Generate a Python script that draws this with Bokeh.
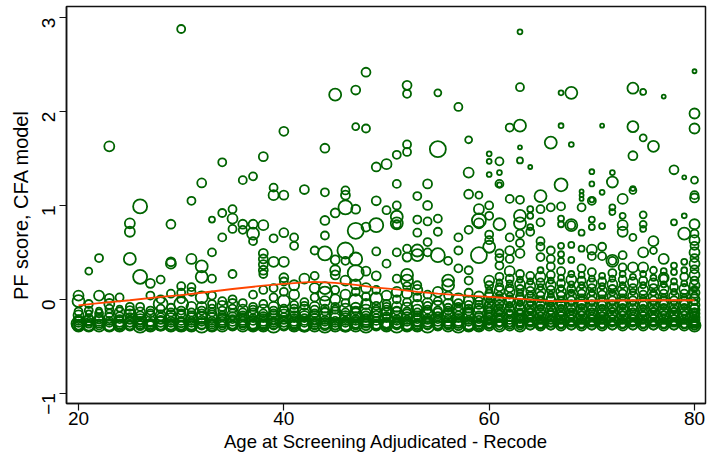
import math
from bokeh.plotting import figure
from bokeh.models import Range1d, FixedTicker
from bokeh.embed import file_html
from bokeh.resources import INLINE

# ---------------- data ----------------
# scattered observations away from the dense floor band: (age, PF score, weight)
scatter_obs = [
    (30, 2.88, 16), (23, 1.63, 25), (34, 1.46, 16), (32, 1.24, 20), (31, 1.05, 16), (26, 0.99, 49),
    (48, 2.42, 20), (45, 2.18, 36), (47, 2.23, 20), (40, 1.79, 20), (47, 1.84, 12), (48, 1.82, 16),
    (44, 1.61, 20), (38, 1.52, 20), (50, 1.44, 25), (49, 1.41, 20), (51, 1.54, 16), (36, 1.27, 16),
    (37, 1.31, 16), (39, 1.19, 16), (39, 1.11, 25), (40, 1.11, 20), (42, 1.17, 20), (44, 1.14, 16),
    (46, 1.16, 16), (46, 1.11, 20), (49, 1.05, 20), (51, 1.23, 16),
    (63, 2.85, 6), (52, 2.28, 20), (52, 2.19, 16), (55, 2.20, 12), (57, 2.05, 16), (63, 2.26, 16),
    (63, 1.85, 36), (62, 1.83, 16), (52, 1.65, 16), (52, 1.57, 16), (55, 1.60, 64), (58, 1.70, 12),
    (60, 1.55, 6), (60, 1.47, 6), (61, 1.47, 16), (60, 1.33, 6), (61, 1.35, 6), (61, 1.23, 16),
    (61, 1.22, 6), (63, 1.62, 4), (63, 1.48, 9), (64, 1.41, 4), (66, 1.67, 36), (58, 1.35, 25),
    (54, 1.23, 20), (53, 1.10, 16), (58, 1.12, 20), (59, 1.11, 12), (62, 1.07, 16), (63, 1.06, 16),
    (65, 1.10, 36),
    (80, 2.43, 4), (67, 2.20, 6), (68, 2.20, 36), (74, 2.25, 30), (75, 2.21, 9), (77, 2.16, 4),
    (80, 1.98, 25), (80, 1.82, 25), (67, 1.85, 6), (71, 1.85, 4), (74, 1.84, 30), (75, 1.72, 12),
    (76, 1.63, 30), (68, 1.65, 6), (74, 1.53, 20), (78, 1.38, 20), (79, 1.30, 4), (80, 1.27, 12),
    (67, 1.22, 42), (70, 1.36, 6), (70, 1.23, 6), (72, 1.35, 6), (72, 1.25, 30), (69, 1.15, 4),
    (69, 1.11, 4), (69, 1.07, 4), (71, 1.14, 6), (74, 1.18, 6), (74, 1.16, 12), (73, 1.07, 25),
    (70, 1.06, 6), (80, 1.11, 16), (80, 1.08, 20),
    (25, 0.81, 25), (25, 0.72, 25), (29, 0.80, 20), (33, 0.85, 9), (34, 0.92, 16), (35, 0.86, 25),
    (35, 0.75, 16), (34, 0.66, 16), (22, 0.44, 16), (21, 0.30, 12), (25, 0.43, 36), (29, 0.40, 20),
    (29, 0.38, 25), (31, 0.43, 25), (33, 0.50, 16), (32, 0.35, 36), (32, 0.24, 36), (26, 0.24, 49),
    (27, 0.17, 20), (28, 0.21, 16), (30, 0.14, 16), (31, 0.13, 16), (33, 0.22, 16), (35, 0.27, 16),
    (46, 0.98, 49), (45, 0.92, 20), (47, 0.96, 20), (50, 0.95, 16), (51, 1.00, 16), (51, 0.80, 16),
    (44, 0.84, 20), (47, 0.73, 64), (48, 0.77, 20), (49, 0.79, 49), (35, 0.96, 16), (36, 0.80, 20),
    (36, 0.74, 16), (37, 0.80, 20), (37, 0.70, 36), (37, 0.62, 16), (38, 0.79, 25), (39, 0.65, 16),
    (40, 0.71, 20), (41, 0.66, 16), (41, 0.57, 16), (44, 0.68, 16), (44, 0.49, 49), (43, 0.52, 16),
    (46, 0.52, 64), (47, 0.43, 42), (47, 0.28, 64), (46, 0.41, 16), (45, 0.42, 20), (45, 0.31, 25),
    (45, 0.26, 20), (49, 0.51, 16), (50, 0.38, 16), (51, 0.50, 16), (38, 0.49, 20), (38, 0.43, 20),
    (38, 0.37, 20), (38, 0.31, 20), (38, 0.27, 16), (39, 0.40, 25), (40, 0.40, 25), (40, 0.23, 20),
    (40, 0.19, 16), (48, 0.30, 20), (49, 0.25, 20), (42, 0.22, 25), (43, 0.25, 16), (44, 0.12, 36),
    (46, 0.20, 25), (41, 0.15, 25), (39, 0.12, 16),
    (54, 1.00, 20), (51, 0.88, 36), (51, 0.81, 36), (53, 0.85, 16), (54, 0.83, 16), (55, 0.86, 16),
    (55, 0.72, 16), (53, 0.71, 16), (59, 0.96, 25), (59, 0.84, 49), (59, 0.81, 25), (60, 1.00, 16),
    (60, 0.89, 16), (61, 0.80, 36), (63, 0.89, 36), (63, 0.81, 36), (64, 0.96, 9), (64, 0.89, 9),
    (64, 0.77, 9), (64, 0.72, 16), (65, 0.96, 16), (65, 0.82, 16), (66, 0.98, 16), (57, 0.66, 16),
    (57, 0.52, 16), (58, 0.74, 16), (60, 0.69, 16), (60, 0.63, 16), (59, 0.47, 64), (60, 0.56, 36),
    (61, 0.49, 16), (61, 0.44, 16), (61, 0.36, 16), (62, 0.66, 16), (62, 0.52, 20), (62, 0.43, 16),
    (63, 0.70, 16), (63, 0.60, 16), (63, 0.49, 20), (65, 0.62, 16), (65, 0.56, 16), (65, 0.45, 16),
    (66, 0.52, 16), (66, 0.43, 16), (66, 0.35, 16), (55, 0.47, 49), (54, 0.61, 16), (54, 0.50, 16),
    (53, 0.52, 36), (53, 0.47, 36), (52, 0.54, 16), (52, 0.45, 20), (56, 0.41, 16), (57, 0.33, 16),
    (58, 0.31, 16), (58, 0.20, 16), (56, 0.20, 36), (56, 0.15, 36), (52, 0.26, 36), (52, 0.20, 36),
    (53, 0.15, 16), (51, 0.22, 16),
    (80, 0.80, 25), (67, 0.99, 16), (69, 0.98, 16), (70, 1.05, 16), (72, 0.98, 9), (72, 0.93, 9),
    (73, 0.89, 9), (75, 0.90, 12), (75, 0.80, 12), (75, 0.75, 9), (78, 0.82, 9), (79, 0.89, 6),
    (67, 0.86, 9), (67, 0.80, 9), (68, 0.79, 36), (68, 0.79, 16), (69, 0.71, 9), (70, 0.85, 9),
    (70, 0.77, 9), (71, 0.78, 9), (73, 0.79, 25), (73, 0.72, 25), (74, 0.66, 12), (76, 0.62, 25),
    (76, 0.52, 12), (79, 0.70, 36), (77, 0.43, 25), (79, 0.40, 9), (78, 0.36, 9), (78, 0.29, 9),
    (67, 0.57, 9), (67, 0.48, 9), (67, 0.41, 9), (68, 0.58, 9), (68, 0.42, 9), (69, 0.54, 9),
    (70, 0.53, 25), (70, 0.46, 16), (71, 0.56, 16), (71, 0.46, 16), (72, 0.41, 36), (72, 0.41, 16),
    (73, 0.47, 16), (74, 0.34, 25), (75, 0.50, 25), (75, 0.34, 25), (76, 0.31, 12), (77, 0.23, 25),
]

# dense floor band, one row per age 20..80: PF scores and matching weights
band_ages = list(range(20, 81))
band_pf = [
    [-.28, -.28, -.26, -.24, -.21, -.17, -.02, .04, -.28, -.23, -.13],
    [-.28, -.27, -.24, -.20, -.15, -.28, -.22, -.12, -.05],
    [-.28, -.26, -.23, -.19, -.12, .04, -.28, -.21, -.15],
    [-.28, -.25, -.20, -.15, .01, -.28, -.23, -.10, -.05],
    [-.28, -.27, -.24, -.18, -.10, -.28, -.21, -.14, .02],
    [-.28, -.26, -.22, -.16, -.08, -.28, -.24, -.19, -.12],
    [-.28, -.25, -.21, -.17, -.28, -.27, -.23, -.14, -.08],
    [-.28, -.27, -.23, -.18, -.12, .04, -.28, -.25, -.15],
    [-.28, -.26, -.22, -.17, -.10, -.05, -.28, -.24, -.19, .00],
    [-.28, -.25, -.20, -.14, .06, -.28, -.27, -.23, -.17, -.09],
    [-.28, -.27, -.23, -.18, -.12, -.05, .00, .07, -.28, -.25, -.15],
    [-.28, -.25, -.20, -.14, .08, -.28, -.27, -.23, -.17, -.08],
    [-.28, -.26, -.22, -.16, -.08, .02, -.28, -.24, -.19, -.12],
    [-.28, -.25, -.20, -.14, -.05, .04, -.28, -.27, -.23, -.17, -.10],
    [-.28, -.26, -.22, -.17, -.02, -.28, -.24, -.19, -.12, -.07],
    [-.28, -.25, -.21, -.16, -.10, .00, -.28, -.27, -.23, -.18, -.05],
    [-.28, -.26, -.22, -.17, -.11, -.04, -.28, -.24, -.19, -.14],
    [-.28, -.25, -.20, -.15, -.08, .05, -.28, -.27, -.23, -.17, -.11],
    [-.28, -.27, -.23, -.18, -.12, -.05, .10, -.28, -.25, -.20, -.15],
    [-.28, -.25, -.21, -.15, -.08, .02, -.28, -.26, -.23, -.18, -.12],
    [-.28, -.26, -.22, -.16, -.10, -.02, .08, -.28, -.24, -.19, -.13],
    [-.28, -.25, -.20, -.14, -.06, .05, -.28, -.27, -.23, -.17, -.10],
    [-.28, -.27, -.23, -.18, -.12, -.03, -.28, -.25, -.20, -.15, -.07],
    [-.28, -.25, -.21, -.15, -.08, .02, .12, -.28, -.26, -.23, -.18, -.11],
    [-.28, -.26, -.22, -.16, -.10, -.02, .06, -.28, -.24, -.19, -.13],
    [-.28, -.25, -.20, -.15, -.08, .00, .10, -.28, -.27, -.23, -.17, -.11],
    [-.28, -.27, -.23, -.18, -.11, -.04, .05, -.28, -.25, -.20, -.14],
    [-.28, -.25, -.21, -.16, -.09, -.02, .08, .16, -.28, -.27, -.23, -.19, -.12],
    [-.28, -.26, -.22, -.17, -.12, -.05, .03, .12, -.28, -.24, -.20, -.15],
    [-.28, -.25, -.20, -.14, -.07, .01, .10, -.28, -.27, -.23, -.17, -.11],
    [-.28, -.27, -.23, -.18, -.12, -.05, .04, -.28, -.25, -.20, -.15, -.08],
    [-.28, -.25, -.21, -.15, -.08, .00, .08, -.28, -.26, -.23, -.18, -.12],
    [-.28, -.26, -.22, -.16, -.10, -.03, .06, .14, -.28, -.24, -.19, -.13],
    [-.28, -.25, -.20, -.14, -.07, .02, .10, -.28, -.27, -.23, -.17, -.11],
    [-.28, -.26, -.22, -.17, -.11, -.04, .05, -.28, -.24, -.20, -.14, -.07],
    [-.28, -.25, -.21, -.15, -.09, -.02, .08, -.28, -.27, -.23, -.18, -.12],
    [-.28, -.27, -.23, -.18, -.12, -.05, .04, -.28, -.25, -.20, -.15, -.09],
    [-.28, -.25, -.20, -.14, -.08, .00, -.28, -.26, -.23, -.17, -.11, -.04],
    [-.28, -.26, -.22, -.16, -.10, -.02, .07, -.28, -.24, -.19, -.13, -.06],
    [-.28, -.25, -.20, -.14, -.06, .03, -.28, -.27, -.23, -.17, -.10, -.02],
    [-.28, -.28, -.27, -.25, -.24, -.22, -.20, -.18, -.16, -.14, -.12, -.10, -.07, -.04, -.01, .02, .06, .10, .15, .20],
    [-.28, -.28, -.26, -.25, -.23, -.21, -.19, -.17, -.15, -.13, -.11, -.08, -.05, -.02, .01, .05, .09, .13, .18, .24],
    [-.28, -.27, -.26, -.24, -.22, -.20, -.18, -.16, -.14, -.12, -.09, -.06, -.03, .00, .04, .08, .12, .17, .22, .30],
    [-.28, -.28, -.27, -.25, -.23, -.21, -.19, -.17, -.15, -.13, -.10, -.07, -.04, -.01, .03, .07, .11, .16, .21, .27],
    [-.28, -.27, -.26, -.24, -.22, -.20, -.18, -.15, -.13, -.11, -.08, -.05, -.02, .02, .05, .09, .14, .19, .25],
    [-.28, -.28, -.26, -.25, -.23, -.21, -.19, -.17, -.14, -.12, -.09, -.06, -.03, .00, .04, .08, .13, .18, .24, .31],
    [-.28, -.27, -.26, -.24, -.22, -.20, -.18, -.16, -.13, -.11, -.08, -.05, -.02, .01, .05, .10, .15, .20, .26],
    [-.28, -.28, -.26, -.25, -.23, -.21, -.19, -.16, -.14, -.12, -.09, -.06, -.03, .00, .04, .08, .12, .17, .23, .30],
    [-.28, -.27, -.26, -.24, -.22, -.20, -.17, -.15, -.13, -.10, -.07, -.04, -.01, .03, .07, .11, .16, .21, .27],
    [-.28, -.28, -.26, -.25, -.23, -.21, -.18, -.16, -.14, -.11, -.08, -.05, -.02, .02, .06, .10, .15, .20, .26, .33],
    [-.28, -.27, -.26, -.24, -.22, -.20, -.18, -.15, -.13, -.10, -.07, -.04, -.01, .03, .07, .12, .17, .22, .29],
    [-.28, -.28, -.26, -.25, -.23, -.21, -.19, -.17, -.14, -.12, -.09, -.06, -.03, .01, .05, .09, .14, .19, .25],
    [-.28, -.27, -.26, -.24, -.22, -.20, -.17, -.15, -.12, -.10, -.07, -.04, -.01, .03, .07, .11, .16, .22, .28],
    [-.28, -.28, -.26, -.25, -.23, -.21, -.18, -.16, -.14, -.11, -.08, -.05, -.02, .02, .06, .10, .15, .21, .27, .34],
    [-.28, -.27, -.26, -.24, -.22, -.20, -.18, -.15, -.13, -.10, -.07, -.04, -.01, .03, .08, .12, .18, .24],
    [-.28, -.28, -.26, -.25, -.23, -.21, -.19, -.16, -.14, -.12, -.09, -.06, -.03, .01, .05, .10, .15, .20, .27],
    [-.28, -.27, -.26, -.24, -.22, -.19, -.17, -.15, -.12, -.10, -.07, -.04, -.01, .03, .07, .12, .17, .23],
    [-.28, -.28, -.26, -.25, -.23, -.20, -.18, -.16, -.13, -.11, -.08, -.05, -.02, .02, .06, .11, .16, .22, .30],
    [-.28, -.27, -.26, -.24, -.22, -.20, -.17, -.15, -.12, -.10, -.07, -.04, -.01, .03, .08, .13, .19],
    [-.28, -.28, -.26, -.25, -.23, -.21, -.18, -.16, -.13, -.11, -.08, -.05, -.02, .02, .06, .11, .17, .24, .31],
    [-.28, -.28, -.27, -.26, -.25, -.24, -.22, -.21, -.19, -.17, -.15, -.13, -.11, -.09, -.06, -.03, .00, .03, .07, .11, .15, .20, .26, .32, .38, .44, .50, .57, .63, .70],
]
band_wt = [
    [36, 16, 49, 25, 16, 25, 36, 25, 20, 16, 16],
    [25, 9, 16, 16, 9, 36, 25, 16, 16],
    [36, 16, 25, 16, 9, 25, 16, 20, 16],
    [25, 16, 25, 16, 20, 36, 16, 16, 25],
    [36, 16, 25, 16, 9, 20, 16, 25, 16],
    [25, 36, 16, 25, 16, 16, 25, 16, 20],
    [49, 16, 25, 16, 20, 16, 16, 25, 16],
    [36, 16, 25, 25, 16, 16, 20, 16, 16],
    [25, 49, 16, 25, 16, 49, 16, 25, 16, 16],
    [36, 16, 25, 16, 16, 20, 25, 16, 25, 16],
    [25, 49, 16, 25, 16, 49, 16, 16, 16, 20, 16],
    [36, 16, 25, 16, 16, 20, 25, 16, 16, 25],
    [49, 25, 16, 25, 25, 36, 16, 16, 25, 16],
    [25, 16, 25, 16, 16, 16, 36, 16, 16, 25, 16],
    [36, 16, 25, 16, 16, 16, 25, 16, 16, 25],
    [25, 36, 16, 25, 16, 16, 20, 16, 25, 16, 25],
    [36, 16, 25, 16, 25, 16, 16, 25, 16, 16],
    [25, 49, 16, 25, 16, 16, 36, 16, 16, 25, 16],
    [36, 16, 25, 16, 36, 16, 16, 20, 25, 16, 16],
    [49, 16, 25, 16, 25, 16, 16, 25, 16, 25, 16],
    [25, 36, 16, 25, 16, 36, 16, 16, 25, 16, 25],
    [36, 25, 16, 25, 16, 25, 20, 16, 25, 16, 16],
    [25, 49, 16, 25, 36, 16, 36, 16, 16, 25, 16],
    [36, 16, 25, 16, 25, 16, 25, 16, 25, 16, 25, 16],
    [49, 25, 16, 36, 16, 25, 49, 20, 16, 25, 16],
    [36, 16, 25, 36, 16, 25, 16, 16, 25, 16, 25, 16],
    [25, 49, 16, 25, 36, 16, 25, 36, 16, 25, 16],
    [36, 25, 16, 36, 25, 49, 16, 25, 16, 20, 16, 25, 16],
    [49, 16, 25, 16, 36, 25, 16, 25, 20, 25, 16, 25],
    [25, 36, 16, 25, 16, 36, 16, 16, 25, 16, 20, 16],
    [36, 16, 49, 16, 25, 16, 25, 20, 25, 16, 25, 16],
    [49, 25, 16, 36, 25, 16, 25, 16, 20, 16, 25, 16],
    [25, 36, 16, 25, 36, 16, 25, 16, 36, 16, 25, 16],
    [36, 16, 25, 16, 36, 16, 25, 20, 16, 25, 16, 25],
    [49, 25, 16, 36, 16, 25, 16, 16, 25, 16, 25, 16],
    [25, 36, 16, 25, 49, 16, 25, 20, 16, 25, 16, 16],
    [36, 16, 25, 36, 16, 25, 16, 16, 25, 16, 25, 16],
    [49, 25, 16, 25, 16, 36, 20, 16, 25, 16, 25, 16],
    [25, 36, 16, 25, 16, 25, 16, 36, 16, 25, 16, 16],
    [36, 16, 25, 36, 16, 25, 20, 16, 25, 16, 25, 16],
    [25, 9, 16, 25, 9, 16, 25, 9, 16, 25, 9, 16, 25, 16, 9, 25, 16, 9, 16, 25],
    [16, 36, 9, 16, 25, 9, 16, 25, 9, 16, 25, 9, 16, 25, 16, 9, 25, 16, 9, 16],
    [25, 16, 9, 25, 16, 9, 25, 16, 9, 25, 16, 9, 25, 16, 9, 25, 16, 9, 16, 25],
    [36, 16, 9, 16, 25, 16, 9, 25, 16, 9, 25, 16, 9, 25, 16, 9, 16, 25, 9, 16],
    [16, 25, 9, 16, 25, 9, 16, 25, 9, 16, 25, 9, 16, 25, 9, 16, 25, 9, 16],
    [25, 9, 16, 36, 9, 16, 25, 9, 16, 25, 9, 16, 25, 9, 16, 25, 9, 16, 25, 9],
    [16, 25, 9, 25, 16, 9, 25, 16, 9, 25, 16, 9, 25, 16, 9, 16, 25, 9, 16],
    [25, 9, 16, 25, 9, 16, 25, 9, 16, 25, 9, 16, 25, 9, 16, 25, 9, 16, 9, 16],
    [16, 25, 9, 16, 25, 9, 16, 25, 9, 16, 25, 9, 16, 25, 9, 16, 9, 25, 9],
    [25, 9, 16, 25, 9, 16, 25, 9, 16, 25, 9, 16, 25, 9, 16, 25, 9, 16, 9, 16],
    [16, 25, 9, 16, 25, 9, 16, 25, 9, 16, 25, 9, 16, 25, 9, 16, 25, 9, 16],
    [25, 9, 16, 25, 9, 16, 25, 9, 16, 25, 9, 16, 25, 9, 16, 25, 9, 16, 9],
    [16, 25, 9, 16, 25, 9, 16, 25, 9, 16, 25, 9, 16, 25, 9, 16, 25, 9, 16],
    [25, 9, 16, 25, 9, 16, 25, 9, 16, 25, 9, 16, 25, 9, 16, 25, 9, 16, 9, 16],
    [16, 25, 9, 16, 25, 9, 16, 25, 9, 16, 25, 9, 16, 25, 9, 16, 25, 9],
    [25, 9, 16, 25, 9, 16, 25, 9, 16, 25, 9, 16, 25, 9, 16, 25, 9, 16, 9],
    [16, 25, 9, 16, 25, 9, 16, 25, 9, 16, 25, 9, 16, 25, 9, 16, 25, 9],
    [25, 9, 16, 25, 9, 16, 25, 9, 16, 25, 9, 16, 25, 9, 16, 25, 9, 16, 9],
    [16, 25, 9, 16, 25, 9, 16, 25, 9, 16, 25, 9, 16, 25, 9, 16, 9],
    [25, 9, 16, 25, 9, 16, 25, 9, 16, 25, 9, 16, 25, 9, 16, 25, 9, 16, 9],
    [36, 16, 25, 9, 25, 16, 25, 9, 25, 16, 25, 9, 25, 16, 25, 9, 25, 16, 25, 9, 25, 16, 25, 16, 25, 16, 25, 16, 25, 16],
]

# lowess smooth
lowess_age = [20, 22, 25, 28, 30, 32, 35, 38, 40, 42, 43, 45, 47, 49, 51, 53, 55, 57, 60, 63, 66, 68, 70, 75, 80]
lowess_pf = [-0.065, -0.04, -0.01, 0.025, 0.045, 0.07, 0.11, 0.145, 0.165, 0.18, 0.185, 0.175, 0.155,
             0.125, 0.105, 0.08, 0.06, 0.045, 0.025, 0.005, -0.02, -0.02, -0.015, -0.01, -0.01]

x_ticks = [20, 40, 60, 80]
y_ticks = [-1, 0, 1, 2, 3]

# ---------------- assemble ----------------
xs, ys, ws = [], [], []
for a, pf, wt in scatter_obs:
    xs.append(a); ys.append(pf); ws.append(wt)
for a, pfs, wts in zip(band_ages, band_pf, band_wt):
    for pf, wt in zip(pfs, wts):
        xs.append(a); ys.append(pf); ws.append(wt)
sizes = [2.0 * math.sqrt(w) for w in ws]

GREEN = "#006400"
FONT = "Liberation Sans"

p = figure(frame_width=639, frame_height=397,
           x_range=Range1d(18.83, 81.07), y_range=Range1d(-1.11, 3.12),
           output_backend="svg", toolbar_location=None,
           min_border_left=66, min_border_right=2, min_border_top=6, min_border_bottom=0,
           background_fill_color="white", border_fill_color="white")

p.scatter(xs, ys, size=sizes, marker="circle", fill_color=None,
          line_color=GREEN, line_width=1.8)
p.line(lowess_age, lowess_pf, line_color="#FF4500", line_width=1.8)

p.grid.grid_line_color = None
p.outline_line_color = "#111111"
p.outline_line_width = 1.5

p.xaxis.ticker = FixedTicker(ticks=x_ticks)
p.yaxis.ticker = FixedTicker(ticks=y_ticks)
for ax in (p.xaxis[0], p.yaxis[0]):
    ax.axis_line_color = "#111111"
    ax.axis_line_width = 1.5
    ax.major_tick_line_color = "#111111"
    ax.major_tick_line_width = 1.2
    ax.major_tick_out = 7
    ax.major_tick_in = 0
    ax.minor_tick_line_color = None
    ax.major_label_text_font = FONT
    ax.major_label_text_font_size = "19px"
    ax.major_label_text_color = "black"
    ax.axis_label_text_font = FONT
    ax.axis_label_text_font_style = "normal"
    ax.axis_label_text_color = "black"

p.xaxis.axis_label = "Age at Screening Adjudicated - Recode"
p.yaxis.axis_label = "PF score, CFA model"
p.xaxis.axis_label_text_font_size = "18.5px"
p.yaxis.axis_label_text_font_size = "20px"
p.xaxis.major_label_standoff = 1
p.xaxis.axis_label_standoff = 3
p.yaxis.major_label_orientation = math.pi / 2
p.yaxis.major_label_standoff = 11
p.yaxis.axis_label_standoff = 1

open("out.html", "w").write(file_html(p, INLINE))
